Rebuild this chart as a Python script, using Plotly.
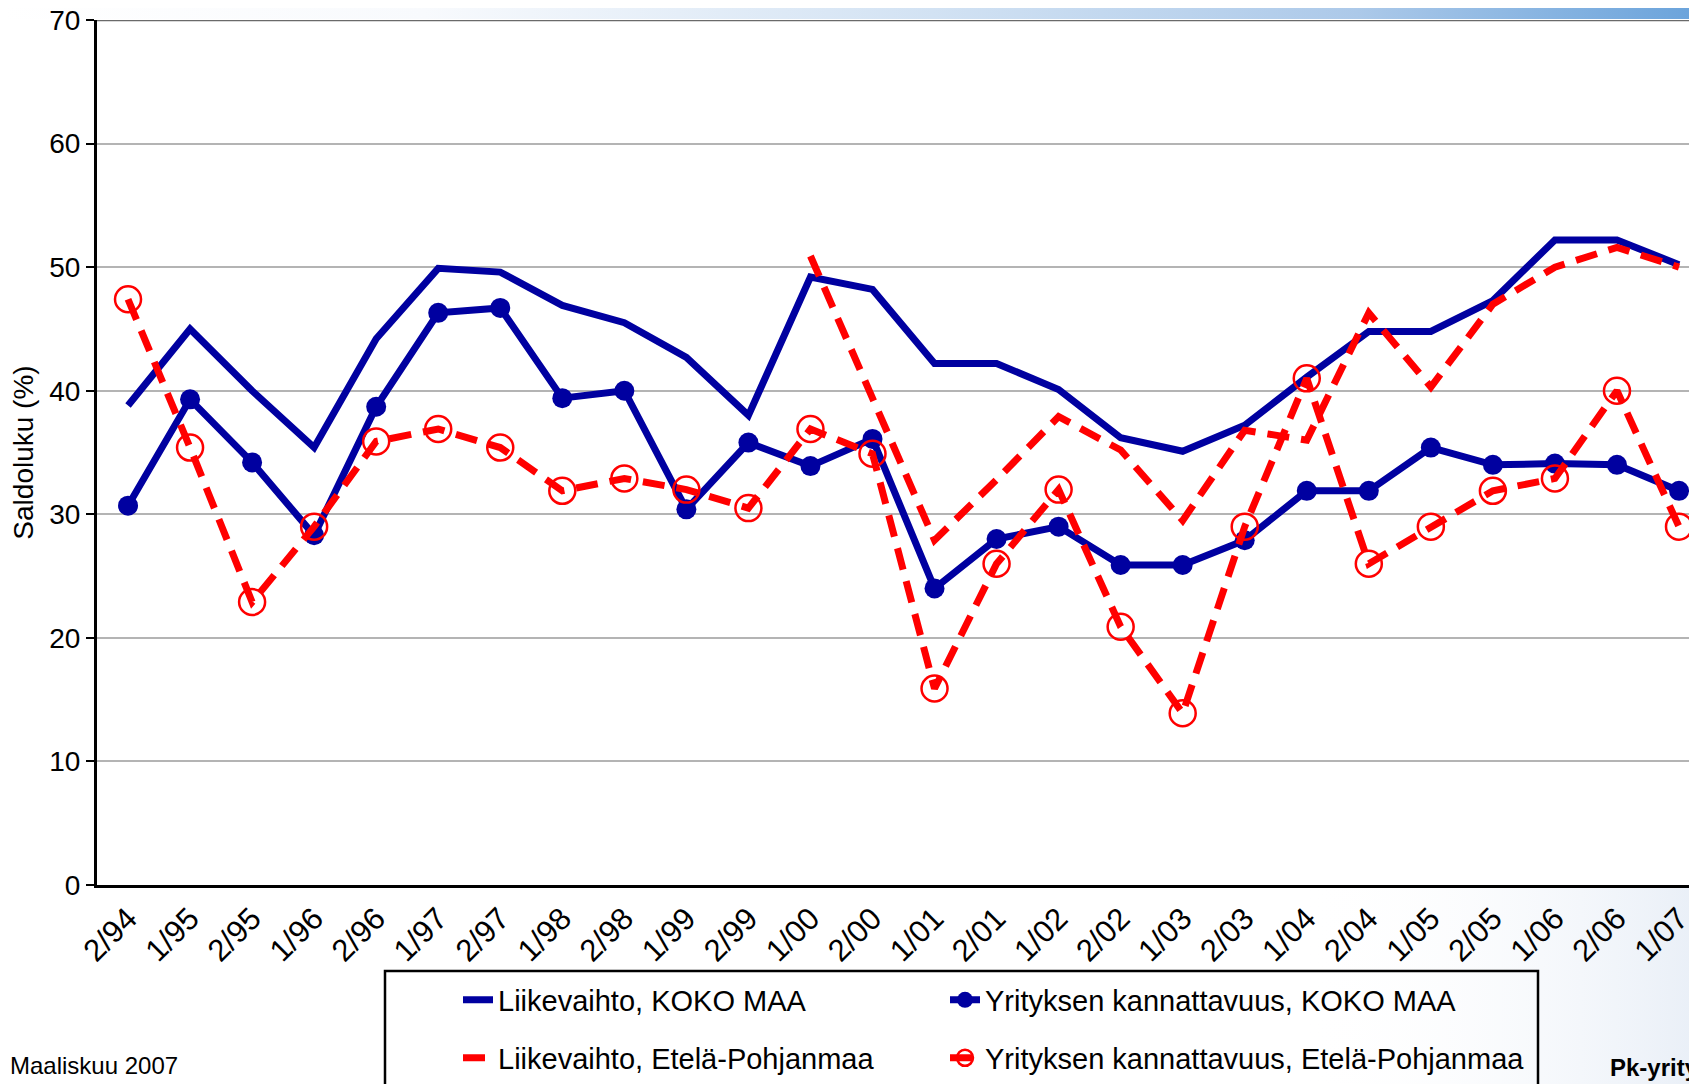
import base64
import plotly.graph_objects as go

# kaudet (puolivuosittain)
categories = ["2/94", "1/95", "2/95", "1/96", "2/96", "1/97", "2/97", "1/98", "2/98", "1/99",
              "2/99", "1/00", "2/00", "1/01", "2/01", "1/02", "2/02", "1/03", "2/03", "1/04",
              "2/04", "1/05", "2/05", "1/06", "2/06", "1/07"]

liikevaihto_koko = [38.8, 45.0, 40.0, 35.4, 44.2, 49.9, 49.6, 46.9, 45.5, 42.7, 38.0, 49.2, 48.2,
                    42.2, 42.2, 40.1, 36.2, 35.1, 37.2, 41.1, 44.8, 44.8, 47.3, 52.2, 52.2, 50.2]
kannattavuus_koko = [30.7, 39.3, 34.2, 28.3, 38.7, 46.3, 46.7, 39.4, 40.0, 30.4, 35.8, 33.9, 36.1,
                     24.0, 28.0, 29.0, 25.9, 25.9, 27.9, 31.9, 31.9, 35.4, 34.0, 34.1, 34.0, 31.9]
liikevaihto_ep = [None, None, None, None, None, None, None, None, None, None, None,
                  50.9, 39.5, 27.9, 32.8, 37.9, 35.2, 29.5, 36.8, 36.0, 46.3, 40.3, 47.0, 50.0, 51.6, 50.0]
kannattavuus_ep = [47.4, 35.4, 22.9, 29.0, 35.9, 36.9, 35.4, 31.9, 32.9, 32.0, 30.5, 36.9, 34.9,
                   15.9, 26.0, 32.0, 20.9, 13.9, 29.0, 41.0, 26.0, 29.0, 31.9, 32.9, 40.0, 29.0]

W, H = 1697, 1084
OFF = 8  # sivun body-marginaali siirtää kuvaa
L, R, T, B = 97 - OFF, OFF, 20 - OFF, H - (885 - OFF)
PW, PH = W - L - R, H - T - B

BLUE = "#0000a0"
RED = "#ff0000"
FONT = "Liberation Sans, Arial, sans-serif"


def px_x(p):
    # ruudun x-pikseli -> paper-koordinaatti
    return (p - OFF - L) / PW


def px_y(p):
    return (H - B - (p - OFF)) / PH


def svg_uri(svg):
    return "data:image/svg+xml;base64," + base64.b64encode(svg.encode()).decode()


top_bar = svg_uri(
    '<svg xmlns="http://www.w3.org/2000/svg" width="1697" height="20" preserveAspectRatio="none">'
    '<defs><linearGradient id="g" x1="0" x2="1" y1="0" y2="0">'
    '<stop offset="0" stop-color="#ffffff"/><stop offset="0.25" stop-color="#f8fafd"/>'
    '<stop offset="0.55" stop-color="#d2e2f3"/><stop offset="0.8" stop-color="#acc9e9"/>'
    '<stop offset="1" stop-color="#6aa3db"/></linearGradient></defs>'
    '<rect width="1697" height="20" fill="url(#g)"/></svg>')

corner = svg_uri(
    '<svg xmlns="http://www.w3.org/2000/svg" width="400" height="200" preserveAspectRatio="none">'
    '<defs><linearGradient id="c" x1="0" x2="1" y1="0" y2="0">'
    '<stop offset="0" stop-color="#ffffff" stop-opacity="0"/>'
    '<stop offset="1" stop-color="#e9eff7"/></linearGradient></defs>'
    '<rect width="400" height="200" fill="url(#c)"/></svg>')

fig = go.Figure()

fig.add_trace(go.Scatter(x=categories, y=liikevaihto_koko, mode="lines",
                         name="Liikevaihto, KOKO MAA", legend="legend", showlegend=True,
                         line=dict(color=BLUE, width=7)))
fig.add_trace(go.Scatter(x=categories, y=kannattavuus_koko, mode="lines+markers",
                         name="Yrityksen kannattavuus, KOKO MAA", legend="legend2",
                         line=dict(color=BLUE, width=7),
                         marker=dict(symbol="circle", size=20, color=BLUE)))
fig.add_trace(go.Scatter(x=categories, y=liikevaihto_ep, mode="lines",
                         name="Liikevaihto, Etelä-Pohjanmaa", legend="legend3",
                         line=dict(color=RED, width=7, dash="22px,12px")))
fig.add_trace(go.Scatter(x=categories, y=kannattavuus_ep, mode="lines+markers",
                         name="Yrityksen kannattavuus, Etelä-Pohjanmaa", legend="legend4",
                         line=dict(color=RED, width=7, dash="22px,12px"),
                         marker=dict(symbol="circle-open", size=26, color=RED,
                                     line=dict(width=2.5, color=RED))))

leg_font = dict(family=FONT, size=29, color="black")
col1 = px_x(500 - 42)
col2 = px_x(987 - 42)
row1 = px_y(1000)
row2 = px_y(1058)


def leg(x, y):
    return dict(x=x, y=y, xanchor="left", yanchor="middle", font=leg_font,
                bgcolor="rgba(0,0,0,0)", borderwidth=0)


fig.update_layout(
    width=W, height=H, autosize=False, showlegend=True,
    margin=dict(l=L, r=R, t=T, b=B, autoexpand=False),
    paper_bgcolor="white", plot_bgcolor="white",
    font=dict(family=FONT, color="black"),
    legend=leg(col1, row1),
    legend2=leg(col2, row1),
    legend3=leg(col1, row2),
    legend4=leg(col2, row2),
    xaxis=dict(type="category", range=[-0.5, 25.29], showgrid=False, zeroline=False,
               showline=True, linecolor="black", linewidth=3, ticks="", automargin=False,
               tickangle=-45, tickfont=dict(size=31, family=FONT, color="black"),
               ticklabeloverflow="allow"),
    yaxis=dict(range=[0, 70], dtick=10, showgrid=True, gridcolor="#b4b4b4", gridwidth=1.5,
               zeroline=False, showline=True, linecolor="black", linewidth=3, automargin=False,
               ticks="outside", ticklen=8, tickwidth=1.5, tickcolor="black",
               ticklabeloverflow="allow",
               tickfont=dict(size=28, family=FONT, color="black"),
               title=dict(text="Saldoluku (%)", font=dict(size=28, family=FONT, color="black"),
                          standoff=12)),
    images=[
        dict(source=top_bar, xref="paper", yref="paper", x=px_x(0), y=px_y(0),
             sizex=W / PW, sizey=19 / PH, sizing="stretch", layer="below",
             xanchor="left", yanchor="top"),
        dict(source=corner, xref="paper", yref="paper", x=px_x(1300), y=px_y(887),
             sizex=397 / PW, sizey=197 / PH, sizing="stretch", layer="below",
             xanchor="left", yanchor="top"),
    ],
    shapes=[
        dict(type="line", xref="paper", yref="y", x0=0, x1=1, y0=70, y1=70,
             line=dict(color="#6a6a6a", width=2.5)),
        dict(type="rect", xref="paper", yref="paper", x0=px_x(385), x1=px_x(1538),
             y0=px_y(971), y1=px_y(1120), line=dict(color="black", width=2.5),
             fillcolor="rgba(0,0,0,0)", layer="below"),
    ],
    annotations=[
        dict(text="Maaliskuu 2007", xref="paper", yref="paper", x=px_x(8), y=px_y(1050),
             xanchor="left", yanchor="top", showarrow=False,
             font=dict(size=24, family=FONT, color="black")),
        dict(text="<b>Pk-yritysbarometri</b>", xref="paper", yref="paper", x=px_x(1608),
             y=px_y(1052), xanchor="left", yanchor="top", showarrow=False,
             font=dict(size=24, family=FONT, color="black")),
    ],
)

fig.write_html("out.html")
